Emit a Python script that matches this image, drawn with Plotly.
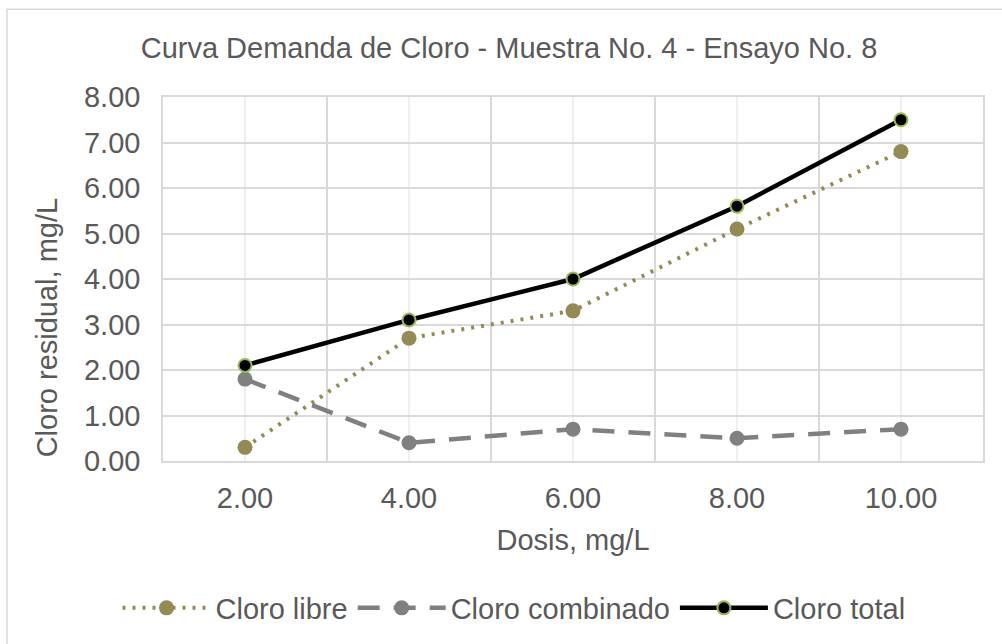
import plotly.graph_objects as go

# Chlorine demand curve: sample 4, test 8
dosis = [2, 4, 6, 8, 10]
dosis_labels = ["2.00", "4.00", "6.00", "8.00", "10.00"]
cloro_libre = [0.3, 2.7, 3.3, 5.1, 6.8]
cloro_combinado = [1.8, 0.4, 0.7, 0.5, 0.7]
cloro_total = [2.1, 3.1, 4.0, 5.6, 7.5]
y_ticks = [0, 1, 2, 3, 4, 5, 6, 7, 8]

FONT = "Liberation Sans, Arial, sans-serif"
TEXT = "#595959"
GRID = "#d9d9d9"
FS = 29

fig = go.Figure()
fig.add_trace(go.Scatter(
    x=dosis, y=cloro_libre, name="Cloro libre", mode="lines+markers",
    line=dict(color="#948A54", width=4, dash="3px,7px"),
    marker=dict(color="#948A54", size=15),
))
fig.add_trace(go.Scatter(
    x=dosis, y=cloro_combinado, name="Cloro combinado", mode="lines+markers",
    line=dict(color="#808080", width=4.5, dash="22px,14px"),
    marker=dict(color="#808080", size=15),
))
fig.add_trace(go.Scatter(
    x=dosis, y=cloro_total, name="Cloro total", mode="lines+markers",
    line=dict(color="#000000", width=4.5),
    marker=dict(color="#000000", size=13, line=dict(color="#9BBB59", width=2)),
))

L, R, T, B = 163, 19, 97, 182
W, H = 1002, 644
pw, ph = W - L - R, H - T - B

fig.update_layout(
    width=W, height=H,
    margin=dict(l=L, r=R, t=T, b=B),
    paper_bgcolor="white", plot_bgcolor="white",
    font=dict(family=FONT, color=TEXT, size=FS),
    title=dict(text="Curva Demanda de Cloro - Muestra No. 4 - Ensayo No. 8",
               x=0.508, xanchor="center", y=1 - 48 / H, yanchor="middle",
               font=dict(size=FS, color=TEXT)),
    showlegend=True,
    legend=dict(orientation="h", x=(514 - L) / pw, xanchor="center",
                y=-(608 - (T + ph)) / ph,
                yanchor="middle", font=dict(size=FS, color=TEXT),
                itemwidth=88, traceorder="normal"),
    annotations=[dict(text="Cloro residual, mg/L", textangle=-90,
                      xref="paper", yref="paper",
                      x=(47 - L) / pw, y=(T + ph - 328) / ph,
                      xanchor="center", yanchor="middle", showarrow=False,
                      font=dict(size=FS, color=TEXT))],
    shapes=[dict(type="rect", xref="paper", yref="paper",
                 x0=(7 - L) / pw, x1=(W + 10 - L) / pw,
                 y0=-(H + 10 - (T + ph)) / ph, y1=(T + ph - 9) / ph,
                 line=dict(color=GRID, width=1.5), fillcolor="rgba(0,0,0,0)",
                 layer="below")],
)
fig.update_xaxes(
    range=[1, 11], tickvals=dosis, ticktext=dosis_labels,
    showgrid=True, gridcolor="#efefef", gridwidth=1.5,
    minor=dict(tickvals=[1, 3, 5, 7, 9, 11], showgrid=True, gridcolor=GRID, gridwidth=1.5),
    showline=True, mirror=True, linecolor=GRID, linewidth=1.5,
    zeroline=False, ticks="", ticklabelstandoff=10,
    tickfont=dict(size=FS, color=TEXT),
    title=dict(text="Dosis, mg/L", font=dict(size=FS, color=TEXT), standoff=17),
)
fig.update_yaxes(
    range=[0, 8], tickvals=y_ticks, tickformat=".2f",
    showgrid=True, gridcolor=GRID, gridwidth=1.5,
    showline=True, mirror=True, linecolor=GRID, linewidth=1.5,
    zeroline=False, ticks="", ticklabelstandoff=15,
    tickfont=dict(size=FS, color=TEXT),
)

fig.write_html("out.html")
